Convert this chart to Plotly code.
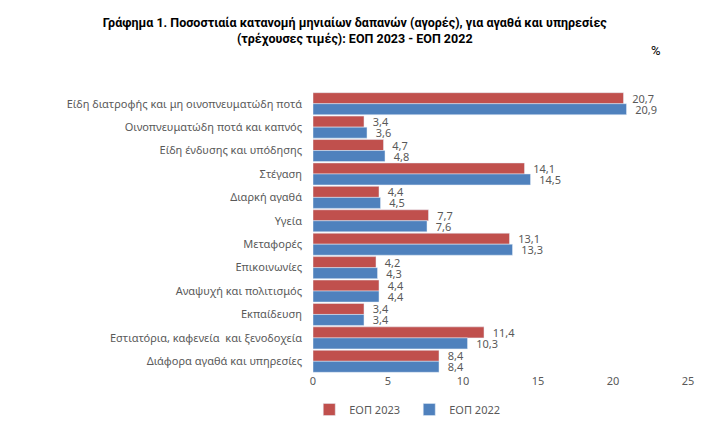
import plotly.graph_objects as go

categories = [
    "Είδη διατροφής και μη οινοπνευματώδη ποτά",
    "Οινοπνευματώδη ποτά και καπνός",
    "Είδη ένδυσης και υπόδησης",
    "Στέγαση",
    "Διαρκή αγαθά",
    "Υγεία",
    "Μεταφορές",
    "Επικοινωνίες",
    "Αναψυχή και πολιτισμός",
    "Εκπαίδευση",
    "Εστιατόρια, καφενεία  και ξενοδοχεία",
    "Διάφορα αγαθά και υπηρεσίες",
]
eop2023 = [20.7, 3.4, 4.7, 14.1, 4.4, 7.7, 13.1, 4.2, 4.4, 3.4, 11.4, 8.4]
eop2022 = [20.9, 3.6, 4.8, 14.5, 4.5, 7.6, 13.3, 4.3, 4.4, 3.4, 10.3, 8.4]
x_ticks = [0, 5, 10, 15, 20, 25]

def fmt(v):
    return "\u00a0\u00a0" + f"{v:.1f}".replace(".", ",")

font_family = "Noto Sans, Open Sans, sans-serif"
title_family = "Roboto, Noto Sans, sans-serif"
grey = "#595959"

fig = go.Figure()
fig.add_trace(go.Bar(
    y=categories, x=eop2023, orientation="h", name="ΕΟΠ 2023",
    marker=dict(color="#C0504D"),
    text=[fmt(v) for v in eop2023], textposition="outside", constraintext="none",
    textfont=dict(size=11, color=grey, family=font_family), cliponaxis=False,
))
fig.add_trace(go.Bar(
    y=categories, x=eop2022, orientation="h", name="ΕΟΠ 2022",
    marker=dict(color="#4F81BD"),
    text=[fmt(v) for v in eop2022], textposition="outside", constraintext="none",
    textfont=dict(size=11, color=grey, family=font_family), cliponaxis=False,
))

fig.update_layout(
    width=724, height=437,
    margin=dict(l=313, r=36, t=92, b=64),
    paper_bgcolor="white", plot_bgcolor="white",
    barmode="group", bargap=0.06, bargroupgap=0,
    font=dict(family=font_family, size=11, color=grey),
    title=dict(
        text="Γράφημα 1. Ποσοστιαία κατανομή μηνιαίων δαπανών (αγορές), για αγαθά και υπηρεσίες<br>(τρέχουσες τιμές): ΕΟΠ 2023 - ΕΟΠ 2022",
        x=0.49, xanchor="center", xref="container",
        y=1 - 27 / 437, yanchor="middle", yref="container",
        font=dict(size=12.5, color="black", family=title_family, weight="bold"),
    ),
    showlegend=True,
    legend=dict(
        orientation="h", x=-0.01, xanchor="left", y=-0.13, yanchor="middle",
        font=dict(size=11, color=grey), traceorder="normal",
        itemwidth=30, entrywidth=55, entrywidthmode="pixels",
    ),
    xaxis=dict(
        range=[0, 25], tickvals=x_ticks, showgrid=False, zeroline=False,
        showline=False, ticks="", tickfont=dict(size=11, color=grey),
    ),
    yaxis=dict(
        autorange="reversed", showgrid=False, showline=False, ticks="",
        tickfont=dict(size=11, color=grey), ticklabelstandoff=10,
    ),
)
fig.add_annotation(
    text="%", x=(656 - 313) / 375, y=(437 - 64 - 50) / 281,
    xref="paper", yref="paper", showarrow=False,
    xanchor="center", yanchor="middle",
    font=dict(size=13, color="black", family=title_family),
)

fig.write_html("out.html")
